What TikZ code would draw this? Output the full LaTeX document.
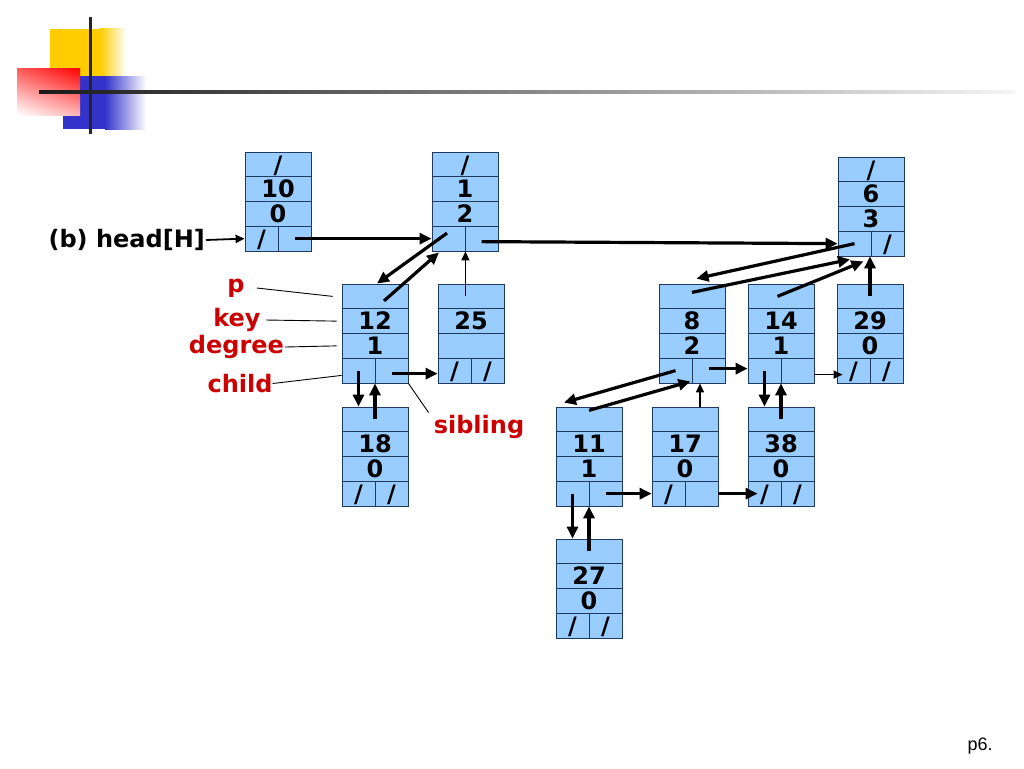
\documentclass[tikz,border=0pt]{standalone}
\usepackage{fontspec}
\setmainfont{DejaVu Sans}
\newfontfamily\pagefont{Liberation Sans}
\usetikzlibrary{arrows.meta,shadings}
\definecolor{boxfill}{HTML}{99CCFF}
\definecolor{boxline}{HTML}{1F3A5F}
\definecolor{fieldred}{HTML}{CC0000}
\definecolor{logoyellow}{HTML}{FFCC00}
\definecolor{logoblue}{HTML}{3333CC}
\newcommand\slsh{/}

\begin{document}
\begin{tikzpicture}[x=1pt,y=-1pt,>={Triangle[length=12pt,width=11pt]},
  cell/.style={draw=boxline,fill=boxfill,line width=0.8pt,minimum width=66pt,
    minimum height=24.75pt,inner sep=0pt,text height=17.5pt,text depth=0pt,
    font=\bfseries\fontsize{24}{24}\selectfont},
  half cell/.style={cell,minimum width=33pt},
  link/.style={->,line width=3.2pt},
  thin link/.style={-{Triangle[length=9pt,width=8pt]},line width=1.4pt},
  field/.style={text=fieldred,font=\bfseries\fontsize{24}{24}\selectfont,inner sep=0pt},
  leader/.style={line width=0.9pt}]

  \useasboundingbox[fill=white] (0,0) rectangle (1024,768);

  % logo
  \fill[logoyellow] (50,29) rectangle (100,77);
  \shade[left color=logoyellow,right color=white] (100,29) rectangle (126,77);
  \fill[logoblue] (63,76) rectangle (105,129);
  \shade[left color=logoblue,right color=white] (105,76) rectangle (146,129);
  \shade[upper left=red!65!white,upper right=red,lower left=white,lower right=red!30!white]
    (17,68) rectangle (80,115);
  \shade[left color=black!90,right color=black!4] (39,90.5) rectangle (1015,93.5);
  \draw[line width=3pt,black!85] (90,17) -- (90,134);

  % heap nodes: name/x/y/p/key/degree/child/sibling
  \foreach \nm/\x/\y/\vp/\vk/\vd/\vc/\vs in {
      n10/245/152/\slsh/10/0/\slsh/{},
      n1/432/152/\slsh/1/2/{}/{},
      n6/838/157/\slsh/6/3/{}/\slsh,
      n12/342/284/{}/12/1/{}/{},
      n25/438/284/{}/25/{}/\slsh/\slsh,
      n18/342/407/{}/18/0/\slsh/\slsh,
      n8/659/284/{}/8/2/{}/{},
      n14/748/284/{}/14/1/{}/{},
      n29/837/284/{}/29/0/\slsh/\slsh,
      n11/556/407/{}/11/1/{}/{},
      n17/652/407/{}/17/0/\slsh/{},
      n38/748/407/{}/38/0/\slsh/\slsh,
      n27/556/539/{}/27/0/\slsh/\slsh}{
    \node[cell] (\nm-p) at (\x+33,\y+12.375) {\vp};
    \node[cell] (\nm-key) at (\x+33,\y+37.125) {\vk};
    \node[cell] (\nm-deg) at (\x+33,\y+61.875) {\vd};
    \node[half cell] (\nm-c) at (\x+16.5,\y+86.625) {\vc};
    \node[half cell] (\nm-s) at (\x+49.5,\y+86.625) {\vs};
  }

  \node[field,text=black,anchor=east] (head) at (205,240) {(b) head[H]};
  \node[field] (lp) at (236,288) {p};
  \node[field] (lkey) at (237,320) {key};
  \node[field] (ldeg) at (236.5,347) {degree};
  \node[field] (lchild) at (240,383.5) {child};
  \node[field] (lsib) at (479,426.5) {sibling};
  \node[font=\pagefont\fontsize{18}{18}\selectfont] (pg) at (980,746) {p6.};

  \draw[-{Triangle[length=9pt,width=8pt]},line width=1.8pt] ([xshift=1pt]head.east) -- (n10-c.west);

  \path[leader]
    ([xshift=12pt]lp.east) edge ([xshift=-9pt]n12-p.west)
    ([xshift=5pt]lkey.east) edge ([xshift=-5pt]n12-key.west)
    ([xshift=1pt]ldeg.east) edge ([xshift=-5pt]n12-deg.west)
    (lchild.east) edge ([yshift=8pt]n12-c.south west)
    (n12-s.south east) edge ([xshift=-5pt,yshift=2pt]lsib.north west);

  \path[link]
    (n10-s.center) edge (n1-c.west)
    ([yshift=-3pt]n1-s.center) edge (n6-c.west)
    ([xshift=-1.5pt,yshift=5.5pt]n1-c.center) edge ([xshift=2pt]n12-p.north)
    ([xshift=9pt,yshift=-4.5pt]n12-p.center) edge ([xshift=-9.5pt,yshift=-1pt]n1-c.south)
    (n12-c.center) edge (n12-c.center |- n18-p.north)
    (n18-p.center) edge (n18-p.center |- n12-c.south)
    ([yshift=-3pt]n12-s.center) edge ([yshift=-3pt]n25-c.west)
    (n6-c.center) edge ([xshift=4.5pt,yshift=5pt]n8-p.north)
    ([yshift=4pt]n8-p.center) edge ([xshift=-4.5pt,yshift=-3pt]n6-c.south)
    ([xshift=-3.5pt]n14-p.center) edge ([xshift=-8pt,yshift=-5pt]n6-c.south east)
    (n29-p.center) edge (n29-p.center |- n6-c.south)
    ([yshift=2pt]n8-s.center) edge ([yshift=2pt]n14-c.west)
    (n8-c.center) edge ([xshift=-25pt,yshift=4pt]n11-p.north)
    ([yshift=9pt]n11-p.center) edge ([xshift=-2pt,yshift=2pt]n8-c.south east)
    (n14-c.center) edge (n14-c.center |- n38-p.north)
    (n38-p.center) edge (n38-p.center |- n14-c.south)
    (n11-c.center) edge (n11-c.center |- n27-p.north)
    (n27-p.center) edge (n27-p.center |- n11-c.south)
    (n11-s.center) edge (n17-c.west)
    (n17-s.east) edge ([xshift=10pt]n38-c.west);

  \path[thin link]
    (n25-p.center -| n1-c.south east) edge (n1-c.south east)
    ([xshift=15pt]n17-p.north) edge ([xshift=15pt]n17-p.north |- n8-c.south)
    ([yshift=-4pt]n14-s.east) edge ([xshift=6pt,yshift=-4pt]n29-c.west);

\end{tikzpicture}
\end{document}
